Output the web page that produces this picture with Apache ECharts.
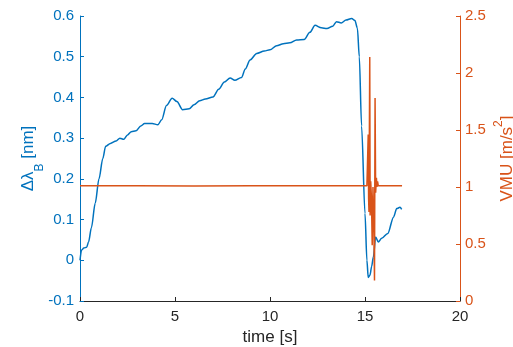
<!DOCTYPE html>
<html>
<head>
<meta charset="utf-8">
<script src="https://cdn.jsdelivr.net/npm/echarts@6/dist/echarts.min.js"></script>
<style>
  html, body { margin: 0; padding: 0; background: #fff; }
  #chart { width: 513px; height: 347px; }
</style>
</head>
<body>
<div id="chart"></div>
<script>
// time [s] and Δλ_B [nm]
const braggTime = [0, 0.08, 0.2, 0.35, 0.45, 0.6, 0.8, 1.0, 1.2, 1.35, 1.6, 1.9, 2.1, 2.3, 2.5, 2.7, 2.95, 3.2, 3.4, 3.8, 4.1, 4.3, 4.55, 4.85, 5.1, 5.4, 5.75, 6.0, 6.3, 6.6, 7.0, 7.3, 7.6, 7.9, 8.15, 8.5, 8.7, 8.95, 9.3, 9.7, 10.0, 10.35, 10.7, 11.05, 11.4, 11.8, 12.1, 12.37, 12.7, 13.0, 13.3, 13.5, 13.75, 14.0, 14.3, 14.47, 14.6, 14.7, 14.82, 15.0, 15.1, 15.17, 15.26, 15.35, 15.44, 15.56, 15.7, 15.88, 16.2, 16.5, 16.67, 16.84, 16.93];
const braggShift = [0.0, 0.025, 0.03, 0.032, 0.045, 0.08, 0.14, 0.2, 0.25, 0.28, 0.287, 0.293, 0.3, 0.297, 0.308, 0.316, 0.318, 0.33, 0.336, 0.336, 0.333, 0.345, 0.38, 0.398, 0.39, 0.37, 0.372, 0.382, 0.392, 0.396, 0.401, 0.42, 0.438, 0.448, 0.442, 0.449, 0.47, 0.492, 0.508, 0.514, 0.517, 0.527, 0.532, 0.534, 0.541, 0.542, 0.56, 0.577, 0.571, 0.569, 0.575, 0.586, 0.583, 0.59, 0.594, 0.589, 0.57, 0.5, 0.33, 0.115, 0.0, -0.042, -0.037, -0.015, 0.008, 0.057, 0.045, 0.054, 0.066, 0.106, 0.127, 0.13, 0.125];

// time [s] and VMU [m/s^2]
const vmuTime = [0, 3, 6, 9, 12, 15.1, 15.15, 15.17, 15.19, 15.21, 15.25, 15.27, 15.3, 15.34, 15.38, 15.42, 15.47, 15.5, 15.53, 15.56, 15.6, 15.63, 15.66, 15.7, 16.3, 16.95];
const vmuValue = [1.01, 1.012, 1.008, 1.012, 1.01, 1.01, 1.0, 1.46, 0.9, 0.78, 2.14, 0.75, 1.05, 0.9, 0.49, 1.0, 0.6, 0.18, 1.78, 0.95, 1.08, 1.0, 1.05, 1.01, 1.012, 1.01];

const xTicks = [0, 5, 10, 15, 20];

const BLUE = "#0072BD";
const ORANGE = "#D95319";
const DARK = "#262626";
const FONT = "Liberation Sans";
const TICK_SIZE = 15;
const NAME_SIZE = 17;

const chart = echarts.init(document.getElementById("chart"), null, { renderer: "canvas" });

chart.setOption({
  animation: false,
  textStyle: { fontFamily: FONT },
  grid: { left: 80, right: 53, top: 16, bottom: 46, containLabel: false, outerBoundsMode: "none" },
  xAxis: {
    type: "value",
    min: xTicks[0],
    max: xTicks[xTicks.length - 1],
    interval: 5,
    name: "time [s]",
    nameLocation: "middle",
    nameGap: 28,
    nameMoveOverlap: false,
    nameTextStyle: { color: DARK, fontSize: NAME_SIZE, fontFamily: FONT },
    axisLine: { onZero: false, lineStyle: { color: DARK, width: 1 } },
    axisTick: { inside: true, length: 4, lineStyle: { color: DARK } },
    axisLabel: { color: DARK, fontSize: TICK_SIZE, margin: 8 },
    splitLine: { show: false },
  },
  yAxis: [
    {
      type: "value",
      position: "left",
      min: -0.1,
      max: 0.6,
      interval: 0.1,
      name: "{a|Δλ}{b|B}{a| [nm]}",
      nameLocation: "middle",
      nameRotate: 90,
      nameGap: 20,
      nameMoveOverlap: false,
      nameTextStyle: {
        color: BLUE,
        rich: {
          a: { color: BLUE, fontSize: NAME_SIZE, fontFamily: FONT, verticalAlign: "top", lineHeight: 20 },
          b: { color: BLUE, fontSize: 12, fontFamily: FONT, verticalAlign: "middle", lineHeight: 40 },
        },
      },
      axisLine: { show: true, lineStyle: { color: BLUE, width: 1 } },
      axisTick: { show: true, inside: true, length: 4, lineStyle: { color: BLUE } },
      axisLabel: {
        color: BLUE,
        fontSize: TICK_SIZE,
        margin: 6,
        formatter: (v) => String(Math.round(v * 10) / 10),
      },
      splitLine: { show: false },
    },
    {
      type: "value",
      position: "right",
      min: 0,
      max: 2.5,
      interval: 0.5,
      name: "{a|VMU [m/s}{b|2}{a|]}",
      nameLocation: "middle",
      nameRotate: 90,
      nameGap: 22,
      nameMoveOverlap: false,
      nameTextStyle: {
        color: ORANGE,
        rich: {
          a: { color: ORANGE, fontSize: NAME_SIZE, fontFamily: FONT, verticalAlign: "bottom", lineHeight: 20 },
          b: { color: ORANGE, fontSize: 12, fontFamily: FONT, verticalAlign: "middle", lineHeight: 34 },
        },
      },
      axisLine: { show: true, lineStyle: { color: ORANGE, width: 1 } },
      axisTick: { show: true, inside: true, length: 4, lineStyle: { color: ORANGE } },
      axisLabel: {
        color: ORANGE,
        fontSize: TICK_SIZE,
        margin: 5,
        formatter: (v) => String(Math.round(v * 10) / 10),
      },
      splitLine: { show: false },
    },
  ],
  series: [
    {
      name: "Δλ_B",
      type: "line",
      yAxisIndex: 0,
      data: braggTime.map((t, i) => [t, braggShift[i]]),
      showSymbol: false,
      smooth: 0.3,
      smoothMonotone: "x",
      lineStyle: { color: BLUE, width: 1.5 },
      z: 2,
    },
    {
      name: "VMU",
      type: "line",
      yAxisIndex: 1,
      data: vmuTime.map((t, i) => [t, vmuValue[i]]),
      showSymbol: false,
      lineStyle: { color: ORANGE, width: 1.5 },
      z: 3,
    },
  ],
});
</script>
</body>
</html>
